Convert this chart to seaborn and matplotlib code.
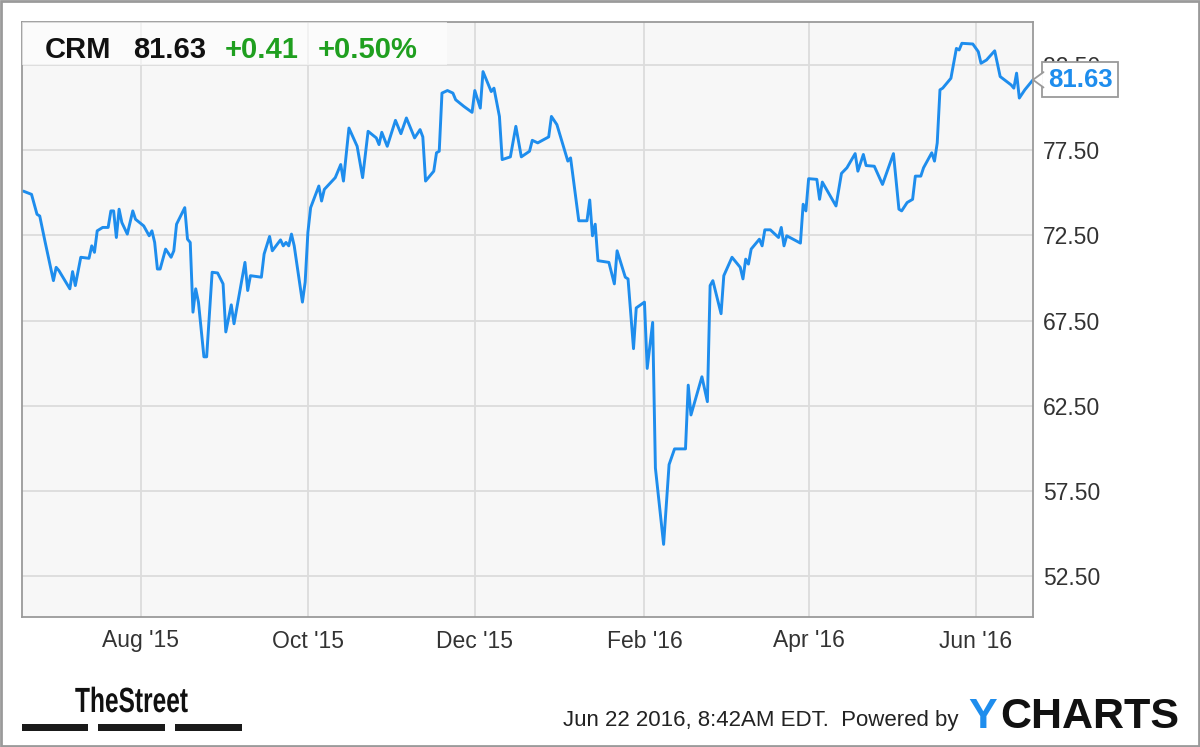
import pandas as pd
import matplotlib
matplotlib.use("Agg")
import matplotlib.pyplot as plt
import matplotlib.dates as mdates
import matplotlib.patches as patches
import matplotlib.transforms as mtransforms
from matplotlib.textpath import TextPath
from matplotlib.font_manager import FontProperties
from matplotlib.ticker import FormatStrFormatter
import seaborn as sns

# CRM price line, turning points
dates = [
    "2015-06-19", "2015-06-22", "2015-06-24", "2015-06-25", "2015-06-27", "2015-06-30",
    "2015-07-01", "2015-07-02", "2015-07-06", "2015-07-07", "2015-07-08", "2015-07-10",
    "2015-07-13", "2015-07-14", "2015-07-15", "2015-07-16", "2015-07-18", "2015-07-20",
    "2015-07-21", "2015-07-22", "2015-07-23", "2015-07-24", "2015-07-25", "2015-07-27",
    "2015-07-29", "2015-07-30", "2015-08-02", "2015-08-04", "2015-08-05", "2015-08-06",
    "2015-08-07", "2015-08-08", "2015-08-10", "2015-08-12", "2015-08-13", "2015-08-14",
    "2015-08-17", "2015-08-18", "2015-08-19", "2015-08-20", "2015-08-21", "2015-08-22",
    "2015-08-24", "2015-08-25", "2015-08-27", "2015-08-29", "2015-08-31", "2015-09-01",
    "2015-09-03", "2015-09-04", "2015-09-08", "2015-09-09", "2015-09-10", "2015-09-14",
    "2015-09-15", "2015-09-17", "2015-09-18", "2015-09-21", "2015-09-22", "2015-09-23",
    "2015-09-24", "2015-09-25", "2015-09-26", "2015-09-29", "2015-09-30", "2015-10-01",
    "2015-10-02", "2015-10-05", "2015-10-06", "2015-10-07", "2015-10-11", "2015-10-13",
    "2015-10-14", "2015-10-16", "2015-10-19", "2015-10-21", "2015-10-23", "2015-10-26",
    "2015-10-27", "2015-10-28", "2015-10-30", "2015-11-02", "2015-11-04", "2015-11-06",
    "2015-11-09", "2015-11-11", "2015-11-12", "2015-11-13", "2015-11-16", "2015-11-17",
    "2015-11-18", "2015-11-19", "2015-11-21", "2015-11-23", "2015-11-24", "2015-11-27",
    "2015-11-30", "2015-12-01", "2015-12-03", "2015-12-04", "2015-12-07", "2015-12-08",
    "2015-12-10", "2015-12-11", "2015-12-14", "2015-12-16", "2015-12-18", "2015-12-21",
    "2015-12-22", "2015-12-24", "2015-12-28", "2015-12-29", "2015-12-31", "2016-01-04",
    "2016-01-05", "2016-01-08", "2016-01-11", "2016-01-12", "2016-01-13", "2016-01-14",
    "2016-01-15", "2016-01-19", "2016-01-21", "2016-01-22", "2016-01-25", "2016-01-26",
    "2016-01-28", "2016-01-29", "2016-02-01", "2016-02-02", "2016-02-04", "2016-02-05",
    "2016-02-08", "2016-02-10", "2016-02-12", "2016-02-16", "2016-02-17", "2016-02-18",
    "2016-02-22", "2016-02-24", "2016-02-25", "2016-02-26", "2016-02-29", "2016-03-01",
    "2016-03-04", "2016-03-07", "2016-03-08", "2016-03-09", "2016-03-10", "2016-03-11",
    "2016-03-14", "2016-03-15", "2016-03-16", "2016-03-18", "2016-03-21", "2016-03-22",
    "2016-03-23", "2016-03-24", "2016-03-29", "2016-03-30", "2016-03-31", "2016-04-01",
    "2016-04-04", "2016-04-05", "2016-04-06", "2016-04-11", "2016-04-13", "2016-04-15",
    "2016-04-18", "2016-04-19", "2016-04-21", "2016-04-22", "2016-04-25", "2016-04-28",
    "2016-05-02", "2016-05-04", "2016-05-05", "2016-05-07", "2016-05-09", "2016-05-10",
    "2016-05-12", "2016-05-13", "2016-05-16", "2016-05-17", "2016-05-18", "2016-05-19",
    "2016-05-20", "2016-05-23", "2016-05-25", "2016-05-26", "2016-05-27", "2016-05-31",
    "2016-06-02", "2016-06-03", "2016-06-05", "2016-06-08", "2016-06-10", "2016-06-14",
    "2016-06-15", "2016-06-16", "2016-06-17", "2016-06-19", "2016-06-22",
]
prices = [
    75.10, 74.91, 73.74, 73.64, 72.09, 69.85,
    70.63, 70.44, 69.37, 70.38, 69.56, 71.22,
    71.16, 71.89, 71.51, 72.77, 72.97, 72.97,
    73.94, 73.94, 72.38, 74.04, 73.26, 72.58,
    73.94, 73.45, 73.06, 72.48, 72.77, 72.09,
    70.53, 70.53, 71.70, 71.22, 71.60, 73.16,
    74.13, 72.28, 72.09, 68.00, 69.37, 68.59,
    65.38, 65.38, 70.34, 70.30, 69.66, 66.84,
    68.43, 67.32, 70.92, 69.27, 70.14, 70.05,
    71.41, 72.44, 71.60, 72.24, 71.89, 72.09,
    71.89, 72.58, 71.89, 68.59, 69.76, 72.68,
    74.13, 75.40, 74.52, 75.20, 75.89, 76.66,
    75.69, 78.80, 77.73, 75.89, 78.61, 78.22,
    77.83, 78.55, 77.73, 79.25, 78.47, 79.39,
    78.22, 78.71, 78.28, 75.69, 76.27, 77.35,
    77.44, 80.85, 81.00, 80.85, 80.46, 80.07,
    79.72, 81.00, 79.97, 82.11, 80.94, 81.14,
    79.48, 76.95, 77.11, 78.90, 77.11, 77.44,
    78.08, 77.93, 78.28, 79.48, 79.00, 76.86,
    77.05, 73.36, 73.36, 74.58, 72.48, 73.16,
    71.02, 70.92, 69.66, 71.60, 70.05, 69.95,
    65.86, 68.25, 68.59, 64.70, 67.40, 58.86,
    54.38, 59.06, 59.98, 59.98, 63.72, 61.97,
    64.21, 62.75, 69.56, 69.85, 67.91, 70.14,
    71.22, 70.63, 69.95, 71.11, 70.82, 71.70,
    72.28, 71.89, 72.83, 72.83, 72.38, 72.97,
    71.89, 72.48, 72.05, 74.33, 73.94, 75.83,
    75.79, 74.62, 75.63, 74.23, 76.14, 76.47,
    77.30, 76.27, 77.25, 76.60, 76.56, 75.49,
    77.30, 74.04, 73.94, 74.43, 74.62, 75.98,
    75.98, 76.47, 77.35, 76.86, 77.93, 81.04,
    81.14, 81.72, 83.47, 83.38, 83.77, 83.73,
    83.28, 82.60, 82.79, 83.33, 81.82, 81.33,
    81.14, 82.02, 80.56, 81.04, 81.63,
]

ticker = "CRM"
last_price = "81.63"
change = "+0.41"
change_pct = "+0.50%"
y_ticks = [52.5, 57.5, 62.5, 67.5, 72.5, 77.5, 82.5]
stamp = "Jun 22 2016, 8:42AM EDT.  Powered by"

df = pd.DataFrame({"date": pd.to_datetime(dates), "price": prices})

line_color = "#1e8ded"
green = "#1f9f1f"

sns.set_theme(style="whitegrid")
plt.rcParams['font.family'] = ['Liberation Sans', 'DejaVu Sans']

W, H = 1200, 747
fig = plt.figure(figsize=(12, 7.47), dpi=100)
fig.patch.set_facecolor('white')
ax = fig.add_axes([21.5 / W, (H - 617) / H, (1033 - 21.5) / W, (617 - 22) / H])
ax.set_facecolor('#f7f7f7')

sns.lineplot(data=df, x='date', y='price', color=line_color, linewidth=2.1, ax=ax)

ax.set_xlim(pd.Timestamp('2015-06-18 08:00'), pd.Timestamp('2016-06-22'))
ax.set_ylim(50.12, 85.02)
ax.set_yticks(y_ticks)
ax.yaxis.set_major_formatter(FormatStrFormatter('%.2f'))
ax.yaxis.tick_right()
ax.xaxis.set_major_locator(mdates.MonthLocator(bymonth=[2, 4, 6, 8, 10, 12]))
ax.xaxis.set_major_formatter(mdates.DateFormatter("%b '%y"))
ax.set_xlabel('')
ax.set_ylabel('')
ax.grid(True, color='#dcdcdc', linewidth=1.3)
for s in ax.spines.values():
    s.set_color('#9a9a9a')
    s.set_linewidth(1.3)
ax.tick_params(axis='both', length=0, labelsize=16.5, labelcolor='#333333')
ax.tick_params(axis='y', pad=7)
ax.tick_params(axis='x', pad=9)

# last price tag on the right
last = df['price'].iloc[-1]
blend = mtransforms.blended_transform_factory(ax.transAxes, ax.transData)
ax.text(1.0145, last, last_price, transform=blend, ha='left', va='center',
        fontsize=18.5, fontweight='bold', color=line_color, clip_on=False, zorder=10,
        bbox=dict(boxstyle='square,pad=0.22', fc='white', ec='#9a9a9a', lw=1.3))
ax.fill([1.0098, 1.0, 1.0098], [last + 0.45, last, last - 0.45], transform=blend,
        color='white', clip_on=False, zorder=11, lw=0)
ax.plot([1.0104, 1.0, 1.0104], [last + 0.45, last, last - 0.45], transform=blend,
        color='#9a9a9a', lw=1.3, clip_on=False, zorder=12)

# header box
fig.patches.append(patches.Rectangle((22 / W, 1 - 65 / H), 425 / W, 43 / H,
                                     transform=fig.transFigure, fc='white', alpha=0.6,
                                     ec='none', zorder=1))
base = 1 - 58 / H
fig.text(45 / W, base, ticker, fontsize=21, fontweight='bold', color='#111111', va='baseline', zorder=3)
fig.text(133 / W, base, last_price, fontsize=21, fontweight='bold', color='#111111', va='baseline', zorder=3)
fig.text(225 / W, base, change, fontsize=21, fontweight='bold', color=green, va='baseline', zorder=3)
fig.text(318 / W, base, change_pct, fontsize=21, fontweight='bold', color=green, va='baseline', zorder=3)

# footer: condensed "TheStreet" logo drawn as a squeezed text path
tp = TextPath((0, 0), "TheStreet", size=35, prop=FontProperties(family='Liberation Sans', weight='bold'))
logo_tr = mtransforms.Affine2D().scale(0.70, 1.0).translate(75, H - 712) + mtransforms.IdentityTransform()
fig.patches.append(patches.PathPatch(tp, transform=logo_tr, fc='#111111', ec='none'))
for x0, x1 in [(22, 88), (98, 165), (175, 242)]:
    fig.patches.append(patches.Rectangle((x0 / W, 1 - 731 / H), (x1 - x0) / W, 7 / H,
                                         transform=fig.transFigure, fc='#1a1a1a', ec='none'))
fig.text(563 / W, 1 - 726 / H, stamp, fontsize=16, color='#222222', va='baseline')
fig.text(968 / W, 1 - 728 / H, "Y", fontsize=31, fontweight='bold', color='#1e8ded', va='baseline')
fig.text(1000 / W, 1 - 728 / H, "CHARTS", fontsize=31, fontweight='bold', color='#111111', va='baseline')

# outer frame
fig.patches.append(patches.Rectangle((0.001, 0.0015), 0.998, 0.997, transform=fig.transFigure,
                                     fill=False, ec='#9a9a9a', lw=2))

fig.savefig('out.png', dpi=100)
